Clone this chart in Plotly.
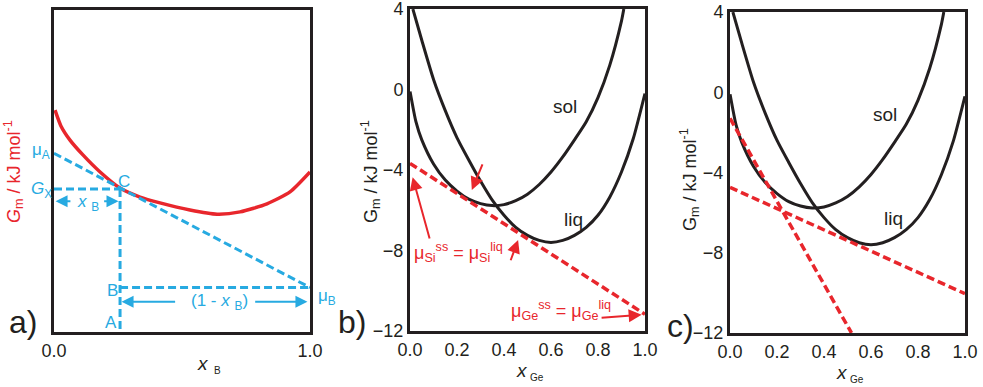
import plotly.graph_objects as go

W, H = 983, 387
F = "Liberation Sans, Arial, sans-serif"
RED = "#E8262C"
BLUE = "#27AAE1"
BLK = "#231F20"

# ---------- panel a data (arbitrary units) ----------
a_x = [0.004, 0.027, 0.0625, 0.113, 0.18, 0.258, 0.336, 0.414, 0.531, 0.637, 0.727, 0.832, 0.922, 1.0]
a_G = [6.89, 6.40, 5.96, 5.50, 4.97, 4.47, 4.19, 4.01, 3.79, 3.66, 3.73, 3.98, 4.35, 4.97]
mu_A = 5.55
mu_B = 1.38
x_C = 0.258
G_x = 4.44
row_xB = 4.06
row_1mxB = 0.94

# ---------- panels b, c data (kJ/mol) ----------
liq_x = [0.012, 0.05, 0.1, 0.15, 0.2, 0.25, 0.3, 0.35, 0.4, 0.45, 0.5, 0.55, 0.6,
         0.65, 0.7, 0.75, 0.8, 0.85, 0.9, 0.95, 1.0]
liq_G = [4.0, 2.45, 0.5, -1.05, -2.4, -3.5, -4.55, -5.5, -6.25, -6.85, -7.25, -7.5, -7.6,
         -7.5, -7.25, -6.85, -6.25, -5.35, -4.1, -2.45, -0.2]
sol_x = [0.0, 0.025, 0.05, 0.1, 0.15, 0.2, 0.25, 0.3, 0.35, 0.4, 0.45, 0.5, 0.55, 0.6,
         0.65, 0.7, 0.75, 0.8, 0.85, 0.9, 0.91]
sol_G = [-0.1, -1.6, -2.5, -3.7, -4.5, -5.05, -5.45, -5.67, -5.77, -5.72, -5.52, -5.2, -4.72, -4.1,
         -3.35, -2.5, -1.6, -0.4, 1.2, 3.4, 4.0]
tan_b_x = [0.0, 1.0]
tan_b_G = [-3.67, -11.17]
tan_c1_x = [0.0, 0.517]
tan_c1_G = [-1.3, -12.0]
tan_c2_x = [0.0, 1.0]
tan_c2_G = [-4.74, -10.04]
y_ticks = [4, 0, -4, -8, -12]
x_ticks = [0.0, 0.2, 0.4, 0.6, 0.8, 1.0]

fig = go.Figure()

def line(x, y, xa, ya, color, width=3, dash=None, spline=False):
    fig.add_trace(go.Scatter(x=x, y=y, xaxis=xa, yaxis=ya, mode="lines",
                             line=dict(color=color, width=width, dash=dash,
                                       shape="spline" if spline else "linear", smoothing=0.6),
                             hoverinfo="skip", showlegend=False))

DB = "8px,4px"
# panel a
line(a_x, a_G, "x", "y", RED, 3.5, spline=True)
line([0, 1], [mu_A, mu_B], "x", "y", BLUE, 3, DB)
line([0, x_C], [G_x, G_x], "x", "y", BLUE, 3, DB)
line([x_C, x_C], [G_x, 0], "x", "y", BLUE, 3, DB)
line([x_C, 1], [mu_B, mu_B], "x", "y", BLUE, 3, DB)
# panel b
line(liq_x, liq_G, "x2", "y2", BLK, 3, spline=True)
line(sol_x, sol_G, "x2", "y2", BLK, 3, spline=True)
line(tan_b_x, tan_b_G, "x2", "y2", RED, 3.5, DB)
# panel c
line(liq_x, liq_G, "x3", "y3", BLK, 3, spline=True)
line(sol_x, sol_G, "x3", "y3", BLK, 3, spline=True)
line(tan_c1_x, tan_c1_G, "x3", "y3", RED, 3.5, DB)
line(tan_c2_x, tan_c2_G, "x3", "y3", RED, 3.5, DB)

ax_common = dict(showline=True, mirror=True, linewidth=3, linecolor=BLK, showgrid=False,
                 zeroline=False, ticks="", automargin=False, ticklabeloverflow="allow",
                 tickfont=dict(family=F, size=18, color=BLK), fixedrange=True)

def dom(p0, p1, W_):
    return [p0 / W_, p1 / W_]

EPS = 0.002
fig.update_layout(
    width=W, height=H, margin=dict(l=0, r=0, t=0, b=0, pad=0),
    paper_bgcolor="white", plot_bgcolor="white", showlegend=False,
    xaxis=dict(domain=dom(54, 310, W), range=[0, 1], anchor="y", tickvals=[0, 1],
               ticktext=["0.0", "1.0"], **ax_common),
    yaxis=dict(domain=[1 - 332 / H, 1 - 10 / H], range=[0, 10], anchor="x",
               showticklabels=False, **ax_common),
    xaxis2=dict(domain=dom(410, 645, W), range=[-EPS / 10, 1 + EPS / 10], anchor="y2",
                tickvals=x_ticks, tickformat=".1f", **ax_common),
    yaxis2=dict(domain=[1 - 331 / H, 1 - 9 / H], range=[-12 - EPS, 4 + EPS], anchor="x2",
                tickvals=y_ticks, **ax_common),
    xaxis3=dict(domain=dom(730, 965, W), range=[-EPS / 10, 1 + EPS / 10], anchor="y3",
                tickvals=x_ticks, tickformat=".1f", **ax_common),
    yaxis3=dict(domain=[1 - 333 / H, 1 - 12 / H], range=[-12 - EPS, 4 + EPS], anchor="x3",
                tickvals=y_ticks, **ax_common),
)

ann = []

def txt(s, px, py, size, color=BLK, angle=0, xanchor="center"):
    ann.append(dict(text=s, x=px / W, y=1 - py / H, xref="paper", yref="paper", showarrow=False,
                    font=dict(family=F, size=size, color=color), xanchor=xanchor,
                    yanchor="middle", textangle=angle))

def arrow(xa, ya, tail, head, color, width=2, size=1.3):
    ann.append(dict(text="", x=head[0], y=head[1], ax=tail[0], ay=tail[1],
                    xref=xa, yref=ya, axref=xa, ayref=ya, showarrow=True,
                    arrowhead=2, arrowsize=size, arrowwidth=width, arrowcolor=color, standoff=0))

# ---- panel a texts ----
txt("<i>G</i><sub>m</sub> / kJ mol<sup>-1</sup>", 13, 172, 18, RED, angle=-90)
txt("μ<sub>A</sub>", 41, 151, 17, BLUE)
txt("<i>G</i><sub>X</sub>", 41, 190, 17, BLUE)
txt("C", 124, 181, 17, BLUE)
txt("B", 112, 290, 17, BLUE)
txt("A", 111, 322, 17, BLUE)
txt("μ<sub>B</sub>", 327, 297, 17, BLUE)
txt("<i>x</i> <sub>B</sub>", 88, 203, 17, BLUE)
txt("(1 - <i>x</i> <sub>B</sub>)", 219, 302, 17, BLUE)
txt("a)", 23, 322, 32)
txt("<i>x</i>", 203, 363, 19)
txt("B", 217, 370, 10)
arrow("x", "y", (0.07, row_xB), (0.006, row_xB), BLUE, 2, 1.2)
arrow("x", "y", (0.19, row_xB), (0.252, row_xB), BLUE, 2, 1.2)
arrow("x", "y", (0.479, row_1mxB), (0.264, row_1mxB), BLUE, 2, 1.2)
arrow("x", "y", (0.78, row_1mxB), (0.99, row_1mxB), BLUE, 2, 1.2)
ann.append(dict(text="", x=0.53, y=-1.0, ax=0.35, ay=-1.0, xref="x", yref="y", axref="x",
                ayref="y", showarrow=True, arrowhead=2, arrowsize=1.2, arrowwidth=1.5,
                arrowcolor=BLK, standoff=0))

# ---- panel b texts ----
txt("G<sub>m</sub> / kJ mol<sup>-1</sup>", 370, 172, 18, BLK, angle=-90)
txt("sol", 565, 106, 19)
txt("liq", 573, 219, 19)
txt("b)", 352, 322, 32)
txt("<i>x</i>", 522, 370, 19)
txt("Ge", 537, 377, 10)
txt("μ<sub>Si</sub><sup>ss</sup> = μ<sub>Si</sub><sup>liq</sup>", 458, 252, 18, RED)
txt("μ<sub>Ge</sub><sup>ss</sup> = μ<sub>Ge</sub><sup>liq</sup>", 561, 310, 18, RED)
arrow("x2", "y2", (0.085, -7.48), (0.011, -4.36), RED, 2, 1.3)
arrow("x2", "y2", (0.426, -8.56), (0.46, -7.48), RED, 2, 1.3)
arrow("x2", "y2", (0.311, -3.65), (0.263, -4.99), RED, 2, 1.3)
arrow("x2", "y2", (0.809, -11.35), (0.986, -11.2), RED, 2, 1.3)

# ---- panel c texts ----
txt("G<sub>m</sub> / kJ mol<sup>-1</sup>", 690, 180, 18, BLK, angle=-90)
txt("sol", 885, 114, 19)
txt("liq", 893, 218, 19)
txt("c)", 680, 326, 32)
txt("<i>x</i>", 842, 372, 19)
txt("Ge", 857, 379, 10)

fig.update_layout(annotations=ann)
fig.write_html("out.html", config={"displayModeBar": False},
               post_script="document.body.style.margin='0';")
